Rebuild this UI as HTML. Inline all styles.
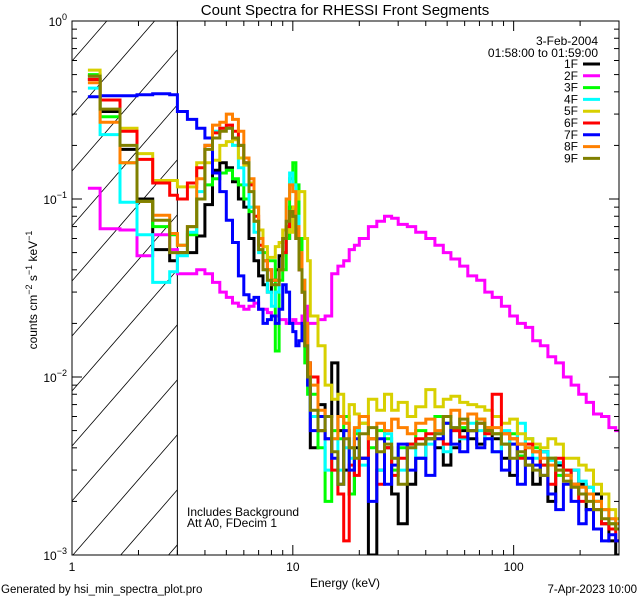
<!DOCTYPE html>
<html><head><meta charset="utf-8"><style>
html,body{margin:0;padding:0;background:#fff;width:640px;height:600px;overflow:hidden;}
svg{display:block;font-family:"Liberation Sans",sans-serif;}
</style></head><body>
<svg id="chart" width="640" height="600" viewBox="0 0 640 600">
<text x="345" y="15" text-anchor="middle" font-size="15">Count Spectra for RHESSI Front Segments</text>
<text x="598" y="45" text-anchor="end" font-size="12">3-Feb-2004</text>
<text x="598" y="57" text-anchor="end" font-size="12">01:58:00 to 01:59:00</text>
<text x="187" y="516" font-size="12">Includes Background</text>
<text x="187" y="527" font-size="12">Att A0, FDecim 1</text>
<text x="345" y="587" text-anchor="middle" font-size="12">Energy (keV)</text>
<text x="1" y="593" font-size="11.5">Generated by hsi_min_spectra_plot.pro</text>
<text x="637" y="593" text-anchor="end" font-size="11.5">7-Apr-2023 10:00</text>
<text transform="translate(37,290) rotate(-90)" text-anchor="middle" font-size="12">counts cm<tspan dy="-5" font-size="9">−2</tspan><tspan dy="5"> s</tspan><tspan dy="-5" font-size="9">−1</tspan><tspan dy="5"> keV</tspan><tspan dy="-5" font-size="9">−1</tspan></text>
</svg>
<script>
const energyEdges = [1.18,1.34,1.65,1.97,2.32,2.77,3.0,3.33,3.67,4.0,4.33,4.67,5.0,5.33,5.67,6.0,6.33,6.67,7.0,7.33,7.67,8.0,8.33,8.67,9.0,9.33,9.67,10.0,10.33,10.67,11.0,11.33,11.67,12,13,14,15,16,17,18,19,20,22,24,26,28,30,33,36,40,44,48,52,57,62,68,74,80,88,96,104,113,122,132,143,155,168,182,197,213,230,250,270,290,300];
const seriesNames = ["1F","2F","3F","4F","5F","6F","7F","8F","9F"];
const seriesColors = ["#000000","#ff00ff","#00ff00","#00ffff","#d8d000","#ff0000","#0000ff","#ff8000","#808000"];
const s1F = [.47,.31,.19,.10,.052,.045, 0.05,0.05,0.062,0.093,0.145,0.16,0.15,0.125,0.10,0.09,0.06,0.045,0.037,0.033,0.03,0.035,0.04,0.048,0.05,0.06,0.09,0.085,0.06,0.04,0.03,0.02,0.012, 0.004,0.007,0.006,0.012,0.005,0.003,0.0022,0.004,0.0035,0.001,0.003,0.004,0.0022,0.0015,0.0025,0.0035,0.0045,0.004,0.0032,0.004,0.005,0.0045,0.0042,0.005,0.0045,0.0035,0.0028,0.0042,0.0032,0.0025,0.0038,0.002,0.0032,0.0028,0.003,0.0025,0.0018,0.0022,0.0015,0.0012,0.001];
const s2F = [.115,.068,.067,.048,.063,.052, 0.038,0.038,0.040,0.038,0.034,0.03,0.028,0.026,0.025,0.024,0.025,0.026,0.024,0.024,0.023,0.022,0.022,0.021,0.021,0.02,0.02,0.021,0.02,0.02,0.022,0.025,0.02, 0.02,0.021,0.022,0.038,0.042,0.045,0.052,0.055,0.06,0.07,0.075,0.08,0.078,0.072,0.07,0.065,0.06,0.055,0.05,0.046,0.042,0.037,0.035,0.03,0.028,0.025,0.022,0.02,0.019,0.016,0.015,0.013,0.012,0.01,0.009,0.008,0.0072,0.0062,0.006,0.0052,0.005];
const s3F = [.50,.29,.16,.097,.07,.063, 0.055,0.063,0.10,0.12,0.13,0.14,0.145,0.13,0.12,0.10,0.085,0.075,0.06,0.05,0.045,0.045,0.014,0.035,0.04,0.06,0.13,0.16,0.12,0.06,0.035,0.012,0.008, 0.008,0.004,0.002,0.005,0.0045,0.006,0.0022,0.0048,0.0055,0.004,0.005,0.0045,0.003,0.004,0.0042,0.005,0.0045,0.006,0.0055,0.005,0.0052,0.005,0.0058,0.0052,0.0048,0.0042,0.0048,0.0036,0.0045,0.004,0.0032,0.0035,0.0028,0.003,0.0025,0.0022,0.0024,0.002,0.0018,0.0015,0.0014];
const s4F = [.42,.23,.096,.063,.034,.039, 0.048,0.065,0.11,0.2,0.24,0.25,0.25,0.2,0.15,0.12,0.09,0.065,0.05,0.04,0.03,0.025,0.03,0.04,0.05,0.1,0.14,0.12,0.08,0.05,0.035,0.02,0.01, 0.006,0.005,0.003,0.0045,0.003,0.004,0.0035,0.005,0.0032,0.0045,0.003,0.0048,0.0035,0.003,0.004,0.0035,0.0042,0.0048,0.0038,0.0052,0.0045,0.0055,0.005,0.0045,0.0038,0.005,0.0042,0.0055,0.004,0.0035,0.0038,0.0034,0.0033,0.0028,0.003,0.0026,0.0024,0.002,0.0018,0.0016,0.0015];
const s5F = [.53,.36,.25,.18,.127,.127, 0.117,0.117,0.16,0.16,0.165,0.2,0.21,0.215,0.17,0.155,0.123,0.09,0.067,0.054,0.047,0.047,0.054,0.057,0.067,0.07,0.065,0.09,0.10,0.11,0.11,0.06,0.045, 0.022,0.015,0.009,0.0075,0.008,0.0055,0.007,0.0062,0.0055,0.0075,0.0065,0.008,0.0065,0.0072,0.006,0.0068,0.0085,0.0068,0.0075,0.0078,0.0072,0.007,0.0068,0.0065,0.006,0.0055,0.0058,0.0048,0.0045,0.0042,0.004,0.0045,0.0042,0.0035,0.0035,0.0032,0.003,0.0025,0.0022,0.0018,0.0016];
const s6F = [.47,.36,.24,.167,.123,.105, 0.10,0.123,0.15,0.2,0.235,0.25,0.26,0.24,0.2,0.16,0.12,0.08,0.055,0.045,0.04,0.035,0.035,0.04,0.05,0.07,0.085,0.08,0.06,0.04,0.03,0.02,0.012, 0.01,0.005,0.0045,0.003,0.0022,0.0012,0.0032,0.0028,0.0035,0.0045,0.0025,0.004,0.0028,0.0035,0.0042,0.0045,0.0048,0.0045,0.0042,0.005,0.0046,0.005,0.0055,0.0048,0.008,0.0048,0.0045,0.0035,0.0042,0.0038,0.0032,0.0025,0.0035,0.003,0.0025,0.002,0.0022,0.0018,0.0015,0.0014,0.0012];
const s7F = [.375,.38,.38,.385,.39,.385, 0.31,0.28,0.25,0.22,0.14,0.11,0.076,0.057,0.037,0.029,0.027,0.028,0.024,0.02,0.021,0.022,0.02,0.024,0.033,0.03,0.02,0.018,0.015,0.016,0.02,0.015,0.009, 0.005,0.006,0.0045,0.0035,0.0025,0.005,0.003,0.0045,0.0035,0.002,0.0045,0.0025,0.0032,0.0042,0.003,0.0035,0.0028,0.0045,0.0055,0.0042,0.0038,0.005,0.004,0.0045,0.0038,0.003,0.0042,0.0025,0.0035,0.0032,0.0028,0.0022,0.0018,0.0025,0.002,0.0015,0.0018,0.0014,0.0012,0.0013,0.0012];
const s8F = [.45,.27,.16,.097,.081,.064, 0.055,0.07,0.13,0.2,0.26,0.27,0.3,0.28,0.24,0.17,0.13,0.09,0.06,0.045,0.04,0.035,0.035,0.04,0.06,0.1,0.12,0.11,0.07,0.05,0.035,0.02,0.012, 0.009,0.0065,0.006,0.0045,0.006,0.0055,0.004,0.0052,0.006,0.0045,0.0055,0.005,0.0058,0.0052,0.0048,0.0055,0.0058,0.005,0.006,0.0065,0.0055,0.0062,0.0058,0.0052,0.0052,0.0048,0.0045,0.0042,0.004,0.0038,0.0035,0.0032,0.003,0.0028,0.0025,0.0024,0.0022,0.002,0.0018,0.0016,0.0015];
const s9F = [.49,.32,.20,.097,.076,.05, 0.05,0.07,0.10,0.19,0.22,0.24,0.25,0.22,0.2,0.16,0.11,0.075,0.052,0.04,0.035,0.033,0.033,0.04,0.06,0.075,0.085,0.08,0.06,0.04,0.03,0.015,0.01, 0.0065,0.005,0.006,0.0038,0.0025,0.0045,0.004,0.0035,0.0048,0.0052,0.0038,0.0042,0.0035,0.0025,0.004,0.0042,0.0045,0.0048,0.006,0.0052,0.0058,0.005,0.0055,0.005,0.0048,0.0042,0.0035,0.0038,0.0032,0.003,0.0028,0.0035,0.003,0.0026,0.0024,0.0022,0.002,0.0018,0.0016,0.0015,0.0014];
const seriesValues = [s1F,s2F,s3F,s4F,s5F,s6F,s7F,s8F,s9F];
const xTickMajor = [1,10,100];
const xTickLabels = ["1","10","100"];
const yTickExponents = [0,-1,-2,-3];

const NS="http://www.w3.org/2000/svg";
const svg=document.getElementById('chart');
const L=72,R=619,T=21,B=555;
const xmin=1,xmax=300,ymin=1e-3,ymax=1;
function xs(e){return L+(Math.log10(e)-Math.log10(xmin))/(Math.log10(xmax)-Math.log10(xmin))*(R-L);}
function ys(v){return B-(Math.log10(v)-Math.log10(ymin))/(Math.log10(ymax)-Math.log10(ymin))*(B-T);}
function mk(tag,attrs,parent){const el=document.createElementNS(NS,tag);for(const k in attrs)el.setAttribute(k,attrs[k]);(parent||svg).appendChild(el);return el;}

const defs=mk('defs',{});
const cp=mk('clipPath',{id:'plotclip'},defs);
mk('rect',{x:L,y:T,width:R-L,height:B-T},cp);

// hatch, clipped geometrically to [L, x3] x [T, B]
const hatch=mk('g',{stroke:'#000','stroke-width':'0.8'});


const X3=xs(3), slope=1.15;
for(let k=-12;k<14;k++){
  const y0=T+40+k*55; // y at x=L ; y = y0 - slope*(x-L)
  // x range where T<=y<=B
  let xa=Math.max(L, L+(y0-B)/slope), xb=Math.min(X3, L+(y0-T)/slope);
  if(xb<=xa) continue;
  mk('line',{x1:xa.toFixed(1),y1:(y0-slope*(xa-L)).toFixed(1),x2:xb.toFixed(1),y2:(y0-slope*(xb-L)).toFixed(1)},hatch);
}
const vline=mk('line',{x1:X3,y1:T,x2:X3,y2:B,stroke:'#000','stroke-width':'1'});



const plotG=mk('g',{'clip-path':'url(#plotclip)'});
seriesValues.forEach((vals,si)=>{
  let d='';
  for(let i=0;i<vals.length;i++){
    const x0=xs(energyEdges[i]),x1=xs(energyEdges[i+1]),y=ys(vals[i]);
    d+=(i===0?'M':'L')+x0.toFixed(1)+','+y.toFixed(1)+'L'+x1.toFixed(1)+','+y.toFixed(1);
  }
  const p=mk('path',{d:d,fill:'none',stroke:seriesColors[si],'stroke-width':'3','stroke-linejoin':'miter'},plotG);
  
  
});

const frame=mk('rect',{x:L,y:T,width:R-L,height:B-T,fill:'none',stroke:'#000','stroke-width':'1'});



const tk=mk('g',{stroke:'#000','stroke-width':'1'});


[1,10,100].forEach(dec=>{for(let m=1;m<10;m++){const e=dec*m;if(e>xmax)break;const x=xs(e);const len=m===1?10:5;
  mk('line',{x1:x,y1:B,x2:x,y2:B-len},tk);mk('line',{x1:x,y1:T,x2:x,y2:T+len},tk);}});
[-3,-2,-1].forEach(p=>{for(let m=1;m<10;m++){const v=m*Math.pow(10,p);const y=ys(v);const len=m===1?10:5;
  mk('line',{x1:L,y1:y,x2:L+len,y2:y},tk);mk('line',{x1:R,y1:y,x2:R-len,y2:y},tk);}});
xTickMajor.forEach((e,i)=>{const t=mk('text',{x:xs(e),y:571,'text-anchor':'middle','font-size':'12'});t.textContent=xTickLabels[i];
  
  });
yTickExponents.forEach(p=>{const y=ys(Math.pow(10,p));const t=mk('text',{x:67,y:y+5,'text-anchor':'end','font-size':'12'});
  
  
  t.appendChild(document.createTextNode('10'));const ts=mk('tspan',{dy:'-6','font-size':'9'},t);ts.textContent=p===0?'0':'−'+(-p);});

const lg=mk('g',{});


seriesNames.forEach((n,i)=>{const y=68+i*11.8;
  const t=mk('text',{x:578,y:y,'text-anchor':'end','font-size':'12'},lg);t.textContent=n;
  
  
  const l=mk('line',{x1:583,y1:y-4,x2:600,y2:y-4,stroke:seriesColors[i],'stroke-width':'3'},lg);
  
  });
</script>
</body></html>
